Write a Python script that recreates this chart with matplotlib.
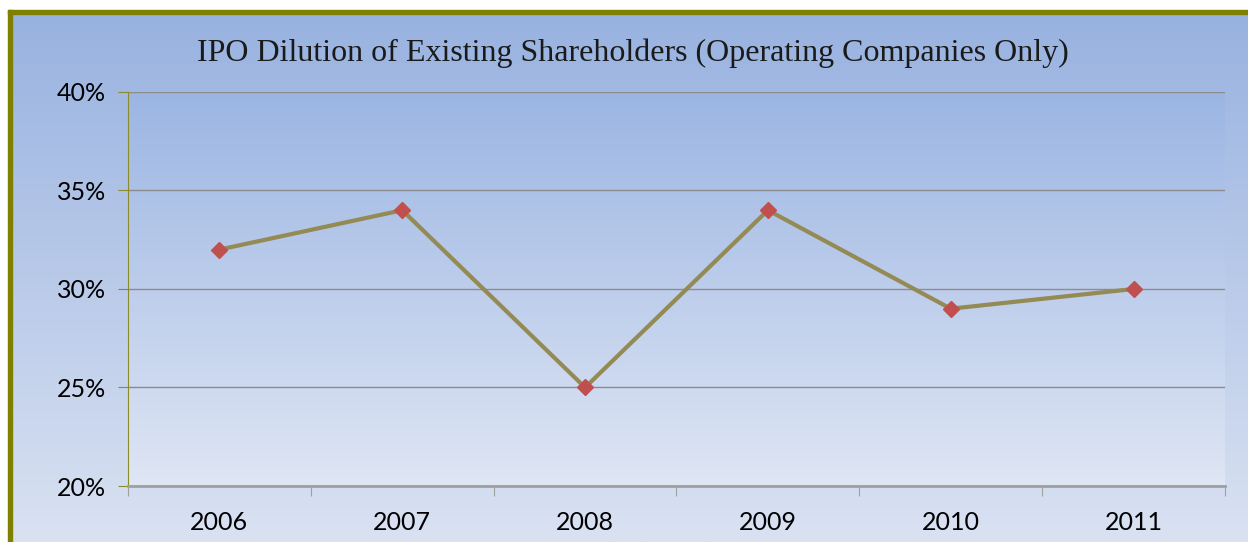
import numpy as np
import matplotlib.pyplot as plt
from matplotlib.patches import Rectangle
from matplotlib.colors import LinearSegmentedColormap
from matplotlib.ticker import FuncFormatter

# data
years = ['2006', '2007', '2008', '2009', '2010', '2011']
dilution = [32, 34, 25, 34, 29, 30]
y_ticks = [20, 25, 30, 35, 40]

W, H = 1248, 542
fig = plt.figure(figsize=(W / 100, H / 100), dpi=100)
fig.patch.set_facecolor('white')

# outer chart area gradient (starts under the top white strip)
bg = fig.add_axes([12 / W, 0, 1 - 12 / W, 1 - 14 / H])
bg_cmap = LinearSegmentedColormap.from_list('bg', ['#98B2E0', '#DAE2F2'])
bg.imshow(np.linspace(0, 1, 256).reshape(-1, 1), aspect='auto', cmap=bg_cmap,
          extent=[0, 1, 0, 1])
bg.set_axis_off()

# olive frame, left and top edges visible
fig.patches.append(Rectangle((8 / W, 0), 4 / W, 1 - 10 / H, transform=fig.transFigure,
                             color='#808000', zorder=5))
fig.patches.append(Rectangle((8 / W, 1 - 14 / H), 1, 4 / H, transform=fig.transFigure,
                             color='#808000', zorder=5))

# plot area
left, right, top, bottom = 128, 1225, 92, 486
ax = fig.add_axes([left / W, 1 - bottom / H, (right - left) / W, (bottom - top) / H])
pa_cmap = LinearSegmentedColormap.from_list('pa', ['#9BB5E3', '#DFE6F4'])
ax.imshow(np.linspace(0, 1, 256).reshape(-1, 1), aspect='auto', cmap=pa_cmap,
          extent=[-0.5, 5.5, 20, 40], zorder=0)

x = np.arange(len(years))
ax.plot(x, dilution, color='#948A54', lw=3, zorder=3,
        marker='D', markersize=8, markerfacecolor='#C0504D', markeredgecolor='#C0504D')

ax.set_xlim(-0.5, 5.5)
ax.set_ylim(20, 40)
ax.set_yticks(y_ticks)
ax.yaxis.set_major_formatter(FuncFormatter(lambda v, p: f'{v:.0f}%'))
ax.set_xticks(np.arange(-0.5, 6, 1))
ax.set_xticklabels([])
ax.set_xticks(x, minor=True)
ax.set_xticklabels(years, minor=True)
ax.tick_params(axis='x', which='minor', length=0, pad=18, labelsize=18)
ax.tick_params(axis='x', which='major', length=7, color='#A0A0A0', direction='out')
ax.tick_params(axis='y', length=7, color='#8B8B2A', labelsize=18, pad=9)
for lab in ax.get_xticklabels(minor=True) + ax.get_yticklabels():
    lab.set_fontfamily('Lato')

ax.grid(axis='y', color='#8C8C8C', lw=1, zorder=1)
for s in ['top', 'right']:
    ax.spines[s].set_visible(False)
ax.spines['left'].set_color('#8B8B2A')
ax.spines['bottom'].set_color('#A0A0A0')
ax.spines['bottom'].set_linewidth(2)
ax.set_axisbelow(True)

fig.text(633 / W, 1 - 53 / H, 'IPO Dilution of Existing Shareholders (Operating Companies Only)',
         ha='center', va='center', fontsize=23, family='Liberation Serif', color='#1a1a1a')

fig.savefig('out.png', dpi=100)
